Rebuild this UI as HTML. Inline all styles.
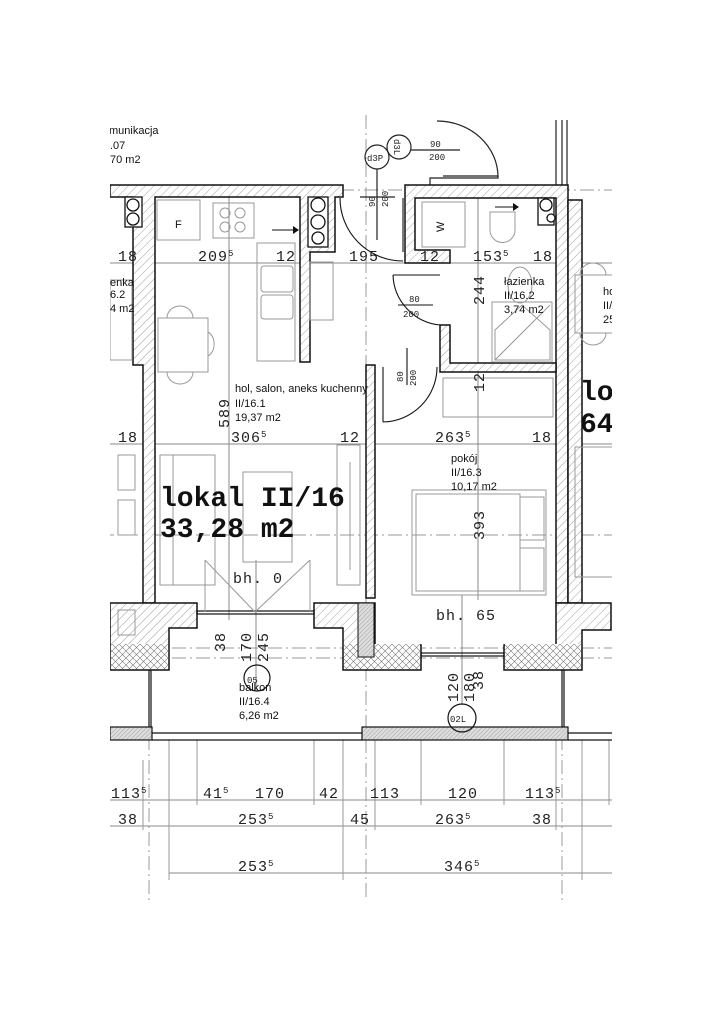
<!DOCTYPE html>
<html><head><meta charset="utf-8"><style>
html,body{margin:0;padding:0;background:#fff;}
svg{display:block}
.d{font-family:"Liberation Mono",monospace;font-size:15px;fill:#222;letter-spacing:1px}
.s{font-family:"Liberation Mono",monospace;font-size:9px;fill:#222}
.r{font-family:"Liberation Sans",sans-serif;font-size:11px;fill:#111}
.b{font-family:"Liberation Mono",monospace;font-size:28px;font-weight:bold;fill:#111}
</style></head><body>
<svg width="723" height="1023" viewBox="0 0 723 1023" xmlns="http://www.w3.org/2000/svg">
<defs>
<pattern id="h" width="6" height="6" patternUnits="userSpaceOnUse" patternTransform="rotate(45)"><rect width="6" height="6" fill="#fff"/><line x1="0" y1="0" x2="0" y2="6" stroke="#888" stroke-width="0.8"/></pattern>
<pattern id="x" width="7" height="7" patternUnits="userSpaceOnUse"><rect width="7" height="7" fill="#fff"/><path d="M0 0L7 7M7 0L0 7" stroke="#777" stroke-width="0.6"/></pattern>
<pattern id="dd" width="3" height="3" patternUnits="userSpaceOnUse" patternTransform="rotate(45)"><rect width="3" height="3" fill="#ddd"/><line x1="0" y1="0" x2="0" y2="3" stroke="#777" stroke-width="0.6"/></pattern>
<clipPath id="c"><rect x="110" y="0" width="502" height="1023"/></clipPath>
</defs>
<g clip-path="url(#c)">
<g stroke="#999" stroke-width="1" stroke-dasharray="14,4,2,4" fill="none">
<line x1="366" y1="115" x2="366" y2="900"/>
<line x1="149" y1="640" x2="149" y2="900"/>
<line x1="562" y1="640" x2="562" y2="900"/>
<line x1="100" y1="190" x2="620" y2="190"/>
<line x1="100" y1="535" x2="620" y2="535"/>
<line x1="100" y1="648" x2="620" y2="648"/>
<line x1="100" y1="658" x2="620" y2="658"/>
</g>
<g stroke="#888" stroke-width="1">
<line x1="100" y1="263" x2="620" y2="263"/>
<line x1="100" y1="444" x2="620" y2="444"/>
<line x1="100" y1="800" x2="620" y2="800"/>
<line x1="100" y1="826" x2="620" y2="826"/>
<line x1="169" y1="873" x2="620" y2="873"/>
<line x1="229" y1="195" x2="229" y2="620"/>
<line x1="478" y1="198" x2="478" y2="600"/>
<line x1="256" y1="560" x2="256" y2="690"/>
<line x1="462" y1="595" x2="462" y2="705"/>
<g stroke="#999">
<line x1="143" y1="760" x2="143" y2="830"/><line x1="169" y1="740" x2="169" y2="880"/>
<line x1="197" y1="740" x2="197" y2="805"/><line x1="314" y1="740" x2="314" y2="805"/>
<line x1="343" y1="740" x2="343" y2="880"/><line x1="375" y1="740" x2="375" y2="830"/>
<line x1="421" y1="740" x2="421" y2="805"/><line x1="504" y1="740" x2="504" y2="805"/>
<line x1="556" y1="740" x2="556" y2="830"/><line x1="582" y1="740" x2="582" y2="880"/>
<line x1="609" y1="740" x2="609" y2="805"/>
</g>
</g>
<g stroke="#222" fill="none" stroke-width="1.2">
<path d="M437 121 A61 56 0 0 1 498 177"/>
<polyline points="430,185 430,178 498,178 498,176 443,176"/>
<line x1="556" y1="120" x2="556" y2="186"/><line x1="562" y1="120" x2="562" y2="186"/><line x1="567" y1="120" x2="567" y2="186"/>
<circle cx="377" cy="157" r="12"/><circle cx="399" cy="147" r="12"/>
<line x1="411" y1="150" x2="460" y2="150"/>
<line x1="377" y1="169" x2="377" y2="240"/>
<line x1="360" y1="197" x2="395" y2="197"/>
</g>
<text class="s" x="367" y="161" font-size="10">d3P</text>
<text class="s" transform="translate(394,139) rotate(90)" font-size="10">d3L</text>
<text class="s" x="430" y="147" font-size="11">90</text><text class="s" x="429" y="160" font-size="11">200</text>
<text class="s" transform="translate(375,207) rotate(-90)" font-size="11">90</text>
<text class="s" transform="translate(388,207) rotate(-90)" font-size="11">200</text>
<g fill="url(#h)" stroke="#111" stroke-width="1.5">
<polygon points="110,185 343,185 343,197 335,197 335,252 310,252 310,362 300,362 300,197 155,197 155,603 143,603 143,365 133,365 133,197 110,197"/>
<polygon points="405,185 568,185 568,603 556,603 556,198 415,198 415,250 450,250 450,263 405,263"/>
<polygon points="440,325 450,325 450,363 556,363 556,372 440,372"/>
<rect x="366" y="365" width="9" height="233"/>
<rect x="568" y="200" width="14" height="403"/>
<polygon points="143,603 197,603 197,628 169,628 169,670 110,670 110,603"/>
<polygon points="314,603 375,603 375,645 421,645 421,670 343,670 343,628 314,628"/>
<polygon points="504,645 556,645 556,603 611,603 611,630 582,630 582,670 504,670"/>
</g>
<g fill="url(#x)" stroke="none">
<rect x="111" y="644" width="57" height="25"/><rect x="344" y="644" width="76" height="25"/><rect x="505" y="644" width="76" height="25"/>
</g>
<rect x="358" y="603" width="16" height="54" fill="url(#dd)" stroke="#111"/>
<g fill="#fff" stroke="#111" stroke-width="1.3">
<rect x="125" y="197" width="17" height="30"/><circle cx="133" cy="205" r="6"/><circle cx="133" cy="219" r="6"/>
<rect x="308" y="197" width="20" height="50"/><circle cx="318" cy="205" r="7"/><circle cx="318" cy="222" r="7"/><circle cx="318" cy="238" r="6"/>
<rect x="538" y="198" width="16" height="27"/><circle cx="546" cy="205" r="6"/><circle cx="551" cy="218" r="4"/>
</g>
<g stroke="#111" fill="none">
<rect x="197" y="611" width="117" height="3" stroke-width="1.2"/>
<rect x="421" y="653" width="83" height="3" stroke-width="1.2"/>
</g>
<g stroke="#111" fill="none" stroke-width="1.1">
<path d="M340 198 A63 63 0 0 0 403 261"/><line x1="403" y1="198" x2="403" y2="252"/>
<path d="M393 275 A52 52 0 0 0 440 325"/><line x1="393" y1="275" x2="440" y2="275"/>
<path d="M383 422 A55 55 0 0 0 437 367"/><line x1="383" y1="367" x2="383" y2="422"/>
<line x1="398" y1="305" x2="433" y2="305"/>
<line x1="407" y1="348" x2="407" y2="385"/>
</g>
<text class="s" x="409" y="302" font-size="11">80</text><text class="s" x="403" y="317" font-size="11">200</text>
<text class="s" transform="translate(403,382) rotate(-90)" font-size="11">80</text>
<text class="s" transform="translate(416,386) rotate(-90)" font-size="11">200</text>
<g stroke="#999" fill="none" stroke-width="1">
<rect x="157" y="200" width="43" height="40"/><rect x="213" y="203" width="41" height="35"/>
<circle cx="225" cy="213" r="5"/><circle cx="240" cy="213" r="5"/><circle cx="225" cy="227" r="5"/><circle cx="240" cy="227" r="5"/>
<rect x="257" y="243" width="38" height="118"/><rect x="261" y="266" width="32" height="26" rx="3"/><rect x="261" y="295" width="32" height="24" rx="3"/>
<rect x="310" y="262" width="23" height="58"/>
<rect x="158" y="318" width="50" height="54"/>
<path d="M167 318 A13 12 0 0 1 193 318"/><path d="M167 372 A13 12 0 0 0 193 372"/><path d="M208 332 A10 13 0 0 1 208 356"/>
<rect x="160" y="455" width="55" height="130"/><line x1="173" y1="455" x2="173" y2="585"/>
<rect x="243" y="472" width="49" height="90"/>
<rect x="337" y="445" width="23" height="140"/><line x1="350" y1="462" x2="350" y2="570"/>
<polyline points="205,560 255,612 310,560"/><line x1="205" y1="560" x2="205" y2="612"/><line x1="310" y1="560" x2="310" y2="612"/>
<rect x="412" y="490" width="134" height="105"/><rect x="416" y="494" width="104" height="97"/><rect x="520" y="497" width="24" height="43"/><rect x="520" y="548" width="24" height="43"/>
<rect x="443" y="378" width="110" height="39"/>
<rect x="422" y="202" width="43" height="45"/>
<path d="M490 212 L515 212 L515 230 A12 12 0 0 1 490 230 Z"/>
<rect x="492" y="302" width="60" height="60"/><path d="M495 330 L522 305 L550 330 L550 360 L495 360 Z"/><line x1="495" y1="360" x2="550" y2="305"/>
<ellipse cx="520" cy="285" rx="12" ry="18"/>
<rect x="118" y="455" width="17" height="35"/><rect x="118" y="500" width="17" height="35"/><rect x="118" y="610" width="17" height="25"/>
<rect x="575" y="275" width="40" height="58"/><path d="M580 275 A13 12 0 0 1 606 275"/><path d="M580 333 A13 12 0 0 0 606 333"/>
<rect x="575" y="447" width="40" height="130"/>
<rect x="110" y="280" width="22" height="80"/>
</g>
<line x1="272" y1="230" x2="293" y2="230" stroke="#111"/><polygon points="293,226 299,230 293,234" fill="#111"/>
<line x1="495" y1="207" x2="513" y2="207" stroke="#111"/><polygon points="513,203 519,207 513,211" fill="#111"/>
<text class="r" x="175" y="228">F</text>
<text class="r" transform="translate(444,232) rotate(-90)">W</text>
<g stroke="#111" fill="none" stroke-width="1.2">
<line x1="149" y1="670" x2="149" y2="735"/><line x1="151" y1="670" x2="151" y2="735"/>
<line x1="562" y1="670" x2="562" y2="735"/><line x1="564" y1="670" x2="564" y2="735"/>
<rect x="110" y="727" width="42" height="13" fill="url(#dd)"/>
<line x1="152" y1="733" x2="362" y2="733"/><line x1="152" y1="740" x2="362" y2="740"/>
<rect x="362" y="727" width="206" height="13" fill="url(#dd)"/>
<line x1="568" y1="733" x2="612" y2="733"/><line x1="568" y1="740" x2="612" y2="740"/>
<circle cx="257" cy="678" r="13" fill="none"/><circle cx="462" cy="718" r="14"/>
</g>
<text class="s" x="247" y="683" font-size="12">05</text>
<text class="s" x="450" y="722" font-size="12">02L</text>
<text class="r" x="109" y="134">munikacja</text><text class="r" x="110" y="149">.07</text><text class="r" x="110" y="163">70 m2</text>
<text class="r" x="110" y="286">enka</text><text class="r" x="110" y="298">6.2</text><text class="r" x="110" y="312">4 m2</text>
<text class="r" x="235" y="392">hol, salon, aneks kuchenny</text><text class="r" x="235" y="407">II/16.1</text><text class="r" x="235" y="421">19,37 m2</text>
<text class="r" x="504" y="285">łazienka</text><text class="r" x="504" y="299">II/16.2</text><text class="r" x="504" y="313">3,74 m2</text>
<text class="r" x="451" y="462">pokój</text><text class="r" x="451" y="476">II/16.3</text><text class="r" x="451" y="490">10,17 m2</text>
<text class="r" x="239" y="691">balkon</text><text class="r" x="239" y="705">II/16.4</text><text class="r" x="239" y="719">6,26 m2</text>
<text class="r" x="603" y="295">ho</text><text class="r" x="603" y="309">II/</text><text class="r" x="603" y="323">25</text>
<text class="b" x="160" y="506">lokal II/16</text><text class="b" x="160" y="537">33,28 m2</text>
<text class="b" x="580" y="400">lo</text><text class="b" x="580" y="432">64</text>
<text class="d" x="233" y="583" font-size="14">bh. 0</text>
<text class="d" x="436" y="620" font-size="14">bh. 65</text>
<text class="d" x="118" y="261">18</text><text class="d" x="198" y="261">209<tspan font-size="9" dy="-5">5</tspan></text><text class="d" x="276" y="261">12</text><text class="d" x="349" y="261">195</text><text class="d" x="420" y="261">12</text><text class="d" x="473" y="261">153<tspan font-size="9" dy="-5">5</tspan></text><text class="d" x="533" y="261">18</text>
<text class="d" x="118" y="442">18</text><text class="d" x="231" y="442">306<tspan font-size="9" dy="-5">5</tspan></text><text class="d" x="340" y="442">12</text><text class="d" x="435" y="442">263<tspan font-size="9" dy="-5">5</tspan></text><text class="d" x="532" y="442">18</text>
<text class="d" x="111" y="798">113<tspan font-size="9" dy="-5">5</tspan></text><text class="d" x="203" y="798">41<tspan font-size="9" dy="-5">5</tspan></text><text class="d" x="255" y="798">170</text><text class="d" x="319" y="798">42</text><text class="d" x="370" y="798">113</text><text class="d" x="448" y="798">120</text><text class="d" x="525" y="798">113<tspan font-size="9" dy="-5">5</tspan></text>
<text class="d" x="118" y="824">38</text><text class="d" x="238" y="824">253<tspan font-size="9" dy="-5">5</tspan></text><text class="d" x="350" y="824">45</text><text class="d" x="435" y="824">263<tspan font-size="9" dy="-5">5</tspan></text><text class="d" x="532" y="824">38</text>
<text class="d" x="238" y="871">253<tspan font-size="9" dy="-5">5</tspan></text><text class="d" x="444" y="871">346<tspan font-size="9" dy="-5">5</tspan></text>
<text class="d" transform="translate(229,428) rotate(-90)">589</text>
<text class="d" transform="translate(484,305) rotate(-90)">244</text>
<text class="d" transform="translate(484,392) rotate(-90)">12</text>
<text class="d" transform="translate(484,540) rotate(-90)">393</text>
<text class="d" transform="translate(225,652) rotate(-90)" font-size="13">38</text>
<text class="d" transform="translate(251,662) rotate(-90)" font-size="13">170</text>
<text class="d" transform="translate(268,662) rotate(-90)" font-size="13">245</text>
<text class="d" transform="translate(458,702) rotate(-90)" font-size="13">120</text>
<text class="d" transform="translate(474,702) rotate(-90)" font-size="13">180</text>
<text class="d" transform="translate(483,690) rotate(-90)" font-size="13">38</text>
</g>
</svg>
</body></html>
